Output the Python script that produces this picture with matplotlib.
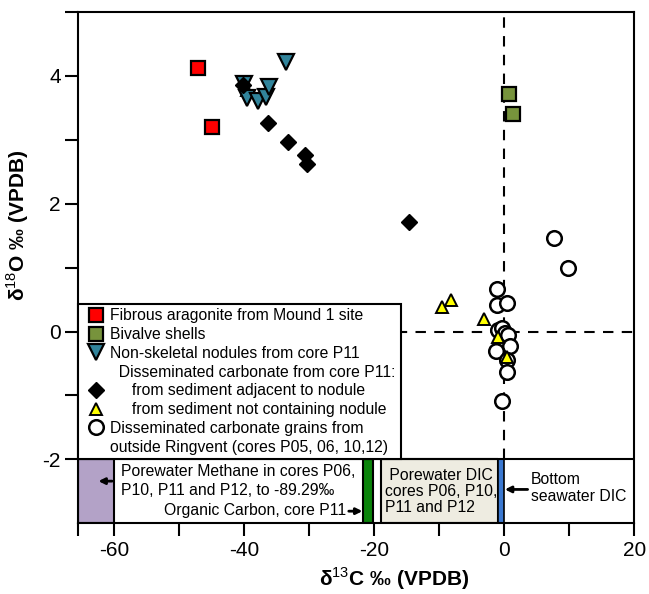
import matplotlib
matplotlib.use("Agg")
import matplotlib.pyplot as plt
from matplotlib.lines import Line2D
from matplotlib.ticker import FixedLocator

plt.rcParams['font.family'] = ['Liberation Sans', 'DejaVu Sans']
plt.rcParams['mathtext.fontset'] = 'custom'
plt.rcParams['mathtext.rm'] = 'Liberation Sans'
plt.rcParams['mathtext.bf'] = 'Liberation Sans:bold'

# ---------------- data ----------------
aragonite_x = [-47.1, -45.0]
aragonite_y = [4.12, 3.20]

bivalve_x = [0.7, 1.4]
bivalve_y = [3.72, 3.41]

nodule_x = [-33.5, -40.0, -39.5, -37.8, -36.6, -36.2]
nodule_y = [4.22, 3.88, 3.65, 3.60, 3.67, 3.82]

adjacent_x = [-40.2, -36.3, -33.2, -30.7, -30.4, -14.7]
adjacent_y = [3.86, 3.26, 2.97, 2.77, 2.62, 1.72]

no_nodule_x = [-39.6, -8.25, -9.5, -3.1, -0.97, 0.37]
no_nodule_y = [3.78, 0.50, 0.39, 0.20, -0.08, -0.40]

outside_x = [7.65, 9.8, -1.1, -1.1, 0.4, -0.9, -0.3, 0.1, 0.6, 0.9, -1.2, 0.4, 0.4, -0.4]
outside_y = [1.46, 1.00, 0.67, 0.42, 0.45, 0.03, 0.06, -0.02, -0.05, -0.22, -0.31, -0.44, -0.64, -1.09]

legend_labels = [
    "Fibrous aragonite from Mound 1 site",
    "Bivalve shells",
    "Non-skeletal nodules from core P11",
    "  Disseminated carbonate from core P11:",
    "     from sediment adjacent to nodule",
    "     from sediment not containing nodule",
    "Disseminated carbonate grains from",
    "outside Ringvent (cores P05, 06, 10,12)",
]

# reference ranges of d13C (bottom panel)
methane_range = (-89.29, -60.0)
organic_range = (-21.7, -20.25)
dic_range = (-19.0, -0.9)
seawater_range = (-0.9, 0.0)

x_major = [-60, -40, -20, 0, 20]
x_minor = [-65.5, -50, -30, -10, 10]
y_major = [-2, 0, 2, 4]
y_minor = [1, 3, -1, 5]

# ---------------- figure ----------------
fig = plt.figure(figsize=(6.49, 5.94), dpi=100)
ax = fig.add_axes([0.1206, 0.1190, 0.8567, 0.8608])
ax.set_xlim(-65.5, 20)
ax.set_ylim(-3, 5)

for s in ax.spines.values():
    s.set_linewidth(1.5)

# dashed reference lines
ax.plot([-65.5, 20], [0, 0], color='k', lw=1.5, ls=(0, (5, 4)), zorder=1)
ax.plot([0, 0], [-2, 5], color='k', lw=1.5, ls=(0, (5, 4)), zorder=1)

# bottom panel
ax.plot([-65.5, 20], [-2, -2], color='k', lw=1.5, zorder=3)
ax.fill_between([-65.5, methane_range[1]], -3, -2, facecolor='#b3a2c7', edgecolor='k', lw=1.5, zorder=2)
ax.fill_between(list(organic_range), -3, -2, facecolor='#0b840b', edgecolor='k', lw=1.5, zorder=2)
ax.fill_between(list(dic_range), -3, -2, facecolor='#eeece1', edgecolor='k', lw=1.5, zorder=2)
ax.fill_between(list(seawater_range), -3, -2, facecolor='#3b78d0', edgecolor='k', lw=1.2, zorder=2)

tfs = 11.3
ax.text(-58.9, -2.19, "Porewater Methane in cores P06,", fontsize=tfs, va='center', ha='left')
ax.text(-58.9, -2.49, "P10, P11 and P12, to -89.29‰", fontsize=tfs, va='center', ha='left')
ax.text(-24.3, -2.80, "Organic Carbon, core P11", fontsize=tfs, va='center', ha='right')
ax.text(-18.4, -2.25, " Porewater DIC", fontsize=tfs, va='center', ha='left')
ax.text(-18.4, -2.51, "cores P06, P10,", fontsize=tfs, va='center', ha='left')
ax.text(-18.4, -2.76, "P11 and P12", fontsize=tfs, va='center', ha='left')
ax.text(4.1, -2.31, "Bottom", fontsize=tfs, va='center', ha='left')
ax.text(4.1, -2.58, "seawater DIC", fontsize=tfs, va='center', ha='left')

ap = dict(arrowstyle='-|>', lw=2, color='k', mutation_scale=9, shrinkA=0, shrinkB=0)
ax.annotate('', xy=(-62.4, -2.34), xytext=(-60.3, -2.34), arrowprops=ap, zorder=4)
ax.annotate('', xy=(-21.8, -2.81), xytext=(-23.9, -2.81), arrowprops=ap, zorder=4)
ax.annotate('', xy=(0.1, -2.47), xytext=(3.6, -2.47), arrowprops=ap, zorder=4)

# data
mew = 1.6
ax.plot(aragonite_x, aragonite_y, ls='none', marker='s', ms=10, mfc='#ff0000', mec='k', mew=mew, zorder=5)
ax.plot(bivalve_x, bivalve_y, ls='none', marker='s', ms=10, mfc='#77933c', mec='k', mew=mew, zorder=5)
ax.plot(no_nodule_x[:1], no_nodule_y[:1], ls='none', marker='^', ms=9, mfc='#ffff00', mec='k', mew=1.4, zorder=4)
ax.plot(nodule_x, nodule_y, ls='none', marker='v', ms=11, mfc='#31849b', mec='k', mew=mew, zorder=5)
ax.plot(adjacent_x, adjacent_y, ls='none', marker='D', ms=8.5, mfc='k', mec='k', mew=1, zorder=6)
ax.plot(outside_x, outside_y, ls='none', marker='o', ms=10.5, mfc='white', mec='k', mew=1.8, zorder=5)
ax.plot(no_nodule_x[1:], no_nodule_y[1:], ls='none', marker='^', ms=9, mfc='#ffff00', mec='k', mew=1.4, zorder=6)

# legend
handles = [
    Line2D([], [], ls='none', marker='s', ms=10, mfc='#ff0000', mec='k', mew=mew),
    Line2D([], [], ls='none', marker='s', ms=10, mfc='#77933c', mec='k', mew=mew),
    Line2D([], [], ls='none', marker='v', ms=11, mfc='#31849b', mec='k', mew=mew),
    Line2D([], [], ls='none', marker=None),
    Line2D([], [], ls='none', marker='D', ms=8.5, mfc='k', mec='k', mew=1),
    Line2D([], [], ls='none', marker='^', ms=9, mfc='#ffff00', mec='k', mew=1.4),
    Line2D([], [], ls='none', marker='o', ms=10.5, mfc='white', mec='k', mew=1.8),
    Line2D([], [], ls='none', marker=None),
]
leg = ax.legend(handles, legend_labels, loc='lower left', bbox_to_anchor=(-65.5, -2),
                bbox_transform=ax.transData, borderaxespad=0, fontsize=11.3,
                frameon=True, fancybox=False, edgecolor='k', framealpha=1,
                handlelength=1.7, handletextpad=0.05, borderpad=0.3, labelspacing=0.24)
leg.get_frame().set_linewidth(1.5)
leg.set_zorder(7)

# ticks
ax.xaxis.set_major_locator(FixedLocator(x_major))
ax.xaxis.set_minor_locator(FixedLocator(x_minor))
ax.yaxis.set_major_locator(FixedLocator(y_major))
ax.yaxis.set_minor_locator(FixedLocator(y_minor))
ax.tick_params(which='both', direction='out', length=9.5, width=1.5)
ax.tick_params(which='major', labelsize=15, pad=3)
ax.set_xticklabels([str(v) for v in x_major])
ax.set_yticklabels([str(v) for v in y_major])

ax.set_xlabel('δ$^{\\mathrm{13}}$C ‰ (VPDB)', fontsize=15, fontweight='bold')
ax.xaxis.set_label_coords(0.568, -0.082)
ax.set_ylabel('δ$^{\\mathrm{18}}$O ‰ (VPDB)', fontsize=15, fontweight='bold')
ax.yaxis.set_label_coords(-0.085, 0.583)

fig.savefig('out.png', dpi=100)
